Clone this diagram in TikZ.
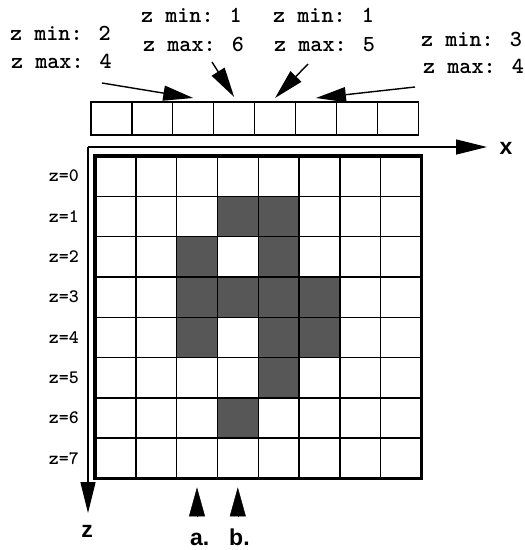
\documentclass[tikz,border=0pt]{standalone}
\usepackage{fontspec}
\newfontfamily\axisfont{Liberation Sans}
\newfontfamily\rangefont{lmmonolt10-bold}[Extension=.otf]
\usetikzlibrary{arrows.meta,positioning,calc}

\begin{document}
\begin{tikzpicture}[x=1pt,y=-1pt,
  cell/.style={draw,line width=1.4pt,minimum width=40.8pt,minimum height=40.3pt,inner sep=0pt,outer sep=0pt},
  slot/.style={draw,line width=1.3pt,minimum width=40.9pt,minimum height=33pt,inner sep=0pt,outer sep=0pt},
  filled/.style={fill=black!66},
  rangelabel/.style={font=\rangefont\fontsize{23}{23}\selectfont,inner sep=0pt,anchor=base west},
  rowlabel/.style={font=\rangefont\fontsize{19}{19}\selectfont,inner sep=0pt,anchor=east},
  axislabel/.style={font=\axisfont\bfseries\fontsize{23}{23}\selectfont,inner sep=0pt},
  pointer/.style={line width=1.4pt,-{Triangle[length=30pt,width=15pt]}},
  marker/.style={line width=0.4pt,-{Triangle[length=29pt,width=16pt]}},
  axis/.style={line width=1.3pt,-{Triangle[length=31pt,width=15pt]}}]
  \useasboundingbox (0,0) rectangle (525,550);

  % voxel slice
  \foreach \i in {0,...,7} {
    \foreach \j in {0,...,7} {
      \node[cell] (c\i-\j) at ({95+40.8*(\i+0.5)},{156+40.3*(\j+0.5)}) {};
    }
  }
  \foreach \i/\j in {3/1,4/1,2/2,4/2,2/3,3/3,4/3,5/3,2/4,4/4,5/4,4/5,3/6}
    \node[cell,filled] (f\i-\j) at (c\i-\j) {};
  \draw[line width=3.5pt] (c0-0.north west) rectangle (c7-7.south east);
  \foreach \j in {0,...,7}
    \node[rowlabel] (r\j) at ($(c0-\j.west)+(-16,0)$) {z=\j};

  % depth buffer
  \foreach \i in {0,...,7}
    \node[slot] (t\i) at ({91+40.9*(\i+0.5)},118.5) {};

  % axes
  \coordinate (o) at (88,147);
  \coordinate (xend) at (487,147);
  \coordinate (zend) at (88,513);
  \draw[axis] (o) -- (xend);
  \draw[axis] (o) -- (zend);
  \node[axislabel] (xl) at (506,148) {x};
  \node[axislabel] (zl) at (87,531) {z};

  % columns a. and b.
  \node[axislabel,anchor=base west] (la) at (190,545) {a.};
  \node[axislabel,anchor=base west] (lb) at (229,545) {b.};
  \coordinate (ta) at ($(c2-7.south)+(0,9)$);
  \coordinate (tb) at ($(c3-7.south)+(0,9)$);
  \draw[marker] ($(ta)+(0,30)$) -- (ta);
  \draw[marker] ($(tb)+(0,30)$) -- (tb);

  % z ranges
  \node[rangelabel] (lo0) at (10,40) {z min: 2};
  \node[rangelabel] (hi0) at (11,68) {z max: 4};
  \node[rangelabel] (lo1) at (141,22) {z min: 1};
  \node[rangelabel] (hi1) at (143,51) {z max: 6};
  \node[rangelabel] (lo2) at (273,22) {z min: 1};
  \node[rangelabel] (hi2) at (274,51) {z max: 5};
  \node[rangelabel] (lo3) at (421,46) {z min: 3};
  \node[rangelabel] (hi3) at (423,73) {z max: 4};
  \coordinate (p0) at (102,83);
  \coordinate (p1) at (212,62);
  \coordinate (p2) at (308,64);
  \coordinate (p3) at (415,87);
  \draw[pointer] (p0) -- ($(t2.north)+(0,-4)$);
  \draw[pointer] (p1) -- ($(t3.north)+(0,-5)$);
  \draw[pointer] (p2) -- ($(t4.north)+(0,-4)$);
  \draw[pointer] (p3) -- ($(t5.north)+(0,-4)$);
\end{tikzpicture}
\end{document}
